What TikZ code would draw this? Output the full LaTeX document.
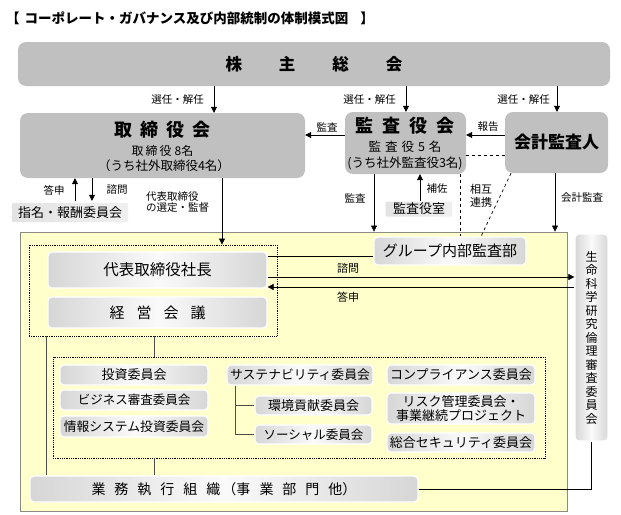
\documentclass[tikz,border=0pt]{standalone}
\usepackage{fontspec}
\setmainfont{Noto Sans CJK JP}
\usetikzlibrary{arrows.meta}
\definecolor{topgray}{RGB}{192,192,192}
\definecolor{yel}{RGB}{255,255,204}
\definecolor{ybord}{RGB}{140,140,130}
\newcommand\fs[1]{\fontsize{#1}{#1}\selectfont}
\begin{document}
\begin{tikzpicture}[x=1pt,y=-1pt,
 sz/.style 2 args={minimum width=#1pt, minimum height=#2pt},
 topbox/.style={fill=topgray, rounded corners=8pt, inner sep=0pt, align=center},
 litebox/.style={draw=white, line width=1.2pt, rounded corners=4pt, left color=gray!32, right color=gray!32, middle color=gray!4, inner sep=0pt, align=center},
 flatbox/.style={left color=gray!22, right color=gray!12, inner sep=0pt, rounded corners=1pt},
 dotbox/.style={draw, densely dotted, line width=0.8pt, inner sep=0pt},
 arr/.style={-{Triangle[length=6pt,width=6pt]}, line width=0.6pt},
 ln/.style={line width=0.6pt},
 dsh/.style={dashed, line width=0.7pt},
 tree/.style={line width=0.9pt, draw=black!70},
 lbl/.style={font=\fs{10.5}, inner sep=0pt},
]
\useasboundingbox (0,0) rectangle (621,514);
\fill[white] (0,0) rectangle (621,514);

% title
\node[anchor=west, inner sep=0pt, font=\fs{13.5}\bfseries] (title) at (6,18) {【\kern5pt コーポレート・ガバナンス及び内部統制の体制模式図\kern12pt 】};

% top level
\node[topbox, sz={592}{44}, font=\fs{16.5}\bfseries] (agm) at (314,64) {株\kern37pt 主\kern37pt 総\kern37pt 会};

\node[topbox, sz={285}{65}] (board) at (162.5,145.5) {};
\node[inner sep=0pt, font=\fs{18}\bfseries] (boardA) at (162.5,130) {取\kern8pt 締\kern8pt 役\kern8pt 会};
\node[inner sep=0pt, font=\fs{12}] (boardB) at (162.5,151) {取\kern2pt 締\kern2pt 役\kern3pt 8名};
\node[inner sep=0pt, font=\fs{12.5}] (boardC) at (164,166) {（うち社外取締役4名）};

\node[topbox, sz={121}{62}] (kansa) at (405.5,143) {};
\node[inner sep=0pt, font=\fs{18}\bfseries] (kansaA) at (405,126) {監\kern9pt 査\kern9pt 役\kern9pt 会};
\node[inner sep=0pt, font=\fs{12.5}] (kansaB) at (405,147) {監\kern4pt 査\kern4pt 役\kern4pt 5\kern4pt 名};
\node[inner sep=0pt, font=\fs{12.5}] (kansaC) at (405,163) {(うち社外監査役3名)};

\node[topbox, sz={103}{61}, font=\fs{17}\bfseries] (kaikei) at (556.5,142.5) {会計監査人};

% helper coordinates
\coordinate (c46) at (46,0);
\coordinate (c75) at (75,0);
\coordinate (c92) at (92,0);
\coordinate (c154) at (154,0);
\coordinate (c214) at (214,0);
\coordinate (c222) at (222,0);
\coordinate (c235) at (235,0);
\coordinate (c374) at (374,0);
\coordinate (c406) at (406,0);
\coordinate (c420) at (420,0);
\coordinate (c460) at (460,0);
\coordinate (c480) at (481,0);
\coordinate (c511) at (511,0);
\coordinate (c555) at (555,0);
\coordinate (c557) at (557,0);
\coordinate (y135) at (0,135);
\coordinate (y155) at (0,155);
\coordinate (y256) at (0,256);
\coordinate (y277) at (0,277);
\coordinate (y287) at (0,287);

% AGM arrows
\draw[arr] (agm.south -| c214) -- (board.north -| c214);
\draw[arr] (agm.south -| c406) -- (kansa.north -| c406);
\draw[arr] (agm.south -| c557) -- (kaikei.north -| c557);
\node[lbl, anchor=east] (sel1) at (204,100) {選任・解任};
\node[lbl, anchor=east] (sel2) at (396,100) {選任・解任};
\node[lbl, anchor=east] (sel3) at (550,100) {選任・解任};

% kansa -> board, kaikei -> kansa
\draw[arr] (kansa.west |- y135) -- (board.east |- y135);
\node[lbl] (lkansa1) at (327,127) {監査};
\draw[arr] (kaikei.west |- y135) -- (kansa.east |- y135);
\node[lbl] (lhoukoku) at (488,127) {報告};
\draw[dsh] (kansa.east |- y155) -- (kaikei.west |- y155);

% nomination committee
\node[flatbox, sz={116}{19}, font=\fs{13}] (nom) at (70,212.5) {指名・報酬委員会};
\draw[arr, shorten <=2pt] (nom.north -| c75) -- (board.south -| c75);
\draw[arr, shorten >=2pt] (board.south -| c92) -- (nom.north -| c92);
\node[lbl] (ltoushin1) at (54,190) {答申};
\node[lbl] (lshimon1) at (117,190) {諮問};
\node[lbl, anchor=north west, align=left, font=\fs{10.5}, text depth=0pt] (lsentei) at (146,191) {代表取締役\\[1pt]の選定・監督};

% yellow area
\node[fill=yel, draw=ybord, line width=0.8pt, sz={547}{279}, inner sep=0pt] (yellow) at (293.5,371.5) {};

% audit room
\node[flatbox, sz={67}{15}, font=\fs{13}] (room) at (419,209) {監査役室};
\draw[arr] (room.north -| c420) -- (kansa.south -| c420);
\node[lbl] (lhosa) at (437,189) {補佐};

% kansa audit arrow
\draw[arr] (kansa.south -| c374) -- (yellow.north -| c374);
\node[lbl] (lkansa2) at (355,198) {監査};

% kaikei audit
\draw[arr] (kaikei.south -| c555) -- (yellow.north -| c555);
\node[lbl] (lkaikei) at (582,198) {会計監査};

% life science committee
\node[litebox, sz={33}{207}, font=\fs{12}, align=center] (life) at (591.5,337.5) {生\\[1.5pt]命\\[1.5pt]科\\[1.5pt]学\\[1.5pt]研\\[1.5pt]究\\[1.5pt]倫\\[1.5pt]理\\[1.5pt]審\\[1.5pt]査\\[1.5pt]委\\[1.5pt]員\\[1.5pt]会};

% group internal audit
\node[litebox, sz={152}{28}, font=\fs{15}] (audit) at (450,251) {グループ内部監査部};
\draw[dsh] (kansa.south -| c460) -- (audit.north -| c460);
\draw[dsh] (kaikei.south -| c511) -- (audit.north -| c480);
\node[lbl, anchor=west, align=left, font=\fs{11}] (lsougo) at (470,195.5) {相互\\[2pt]連携};

% president / management meeting
\node[dotbox, sz={248}{91}] (dot1) at (153,290.5) {};
\node[litebox, sz={219}{36}, font=\fs{15.5}] (pres) at (157.5,270) {代表取締役社長};
\node[litebox, sz={219}{31}, font=\fs{15}] (keiei) at (157.5,312.5) {経\kern12pt 営\kern12pt 会\kern12pt 議};

\draw[arr] (board.south -| c222) -- (dot1.north -| c222);
\draw[ln] (pres.east |- y256) -- (audit.west |- y256);
\draw[arr] (pres.east |- y277) -- (life.west |- y277);
\draw[arr] (life.west |- y287) -- (pres.east |- y287);
\node[lbl, font=\fs{11}] (lshimon2) at (348,268) {諮問};
\node[lbl, font=\fs{11}] (ltoushin2) at (348,297) {答申};

% committees
\node[dotbox, sz={492}{101}] (dot2) at (299,407.5) {};
\node[litebox, sz={148}{20}, font=\fs{13}] (toushi) at (134,375) {投資委員会};
\node[litebox, sz={148}{20}, font=\fs{12.5}] (biz) at (134,400) {ビジネス審査委員会};
\node[litebox, sz={148}{21}, font=\fs{12.8}] (info) at (134,426.5) {情報システム投資委員会};

\node[litebox, sz={146}{20}, font=\fs{12.8}] (sus) at (300,375) {サステナビリティ委員会};
\node[litebox, sz={117}{19}, font=\fs{13}] (env) at (313.5,405.5) {環境貢献委員会};
\node[litebox, sz={117}{19}, font=\fs{12.5}] (soc) at (313.5,434.5) {ソーシャル委員会};
\draw[tree] (sus.south -| c235) |- (env.west);
\draw[tree] (sus.south -| c235) |- (soc.west);

\node[litebox, sz={148}{20}, font=\fs{13}] (comp) at (461,375) {コンプライアンス委員会};
\node[litebox, sz={148}{31}, font=\fs{13}, align=center] (risk) at (461,408.5) {リスク管理委員会・\\[1pt]事業継続プロジェクト};
\node[litebox, sz={148}{19}, font=\fs{13}] (sec) at (461,442.5) {総合セキュリティ委員会};

% business execution organization
\node[litebox, sz={388}{26}, font=\fs{14}] (gyomu) at (224,489) {業\kern9pt 務\kern9pt 執\kern9pt 行\kern9pt 組\kern9pt 織\kern2pt （事\kern9pt 業\kern9pt 部\kern9pt 門\kern9pt 他）};

\draw[tree] (dot1.south -| c154) -- (dot2.north -| c154);
\draw[tree] (dot1.south -| c46) -- (gyomu.north -| c46);
\draw[tree] (dot2.south -| c154) -- (gyomu.north -| c154);
\draw[ln] (gyomu.east) -| (life.south);
\end{tikzpicture}
\end{document}
